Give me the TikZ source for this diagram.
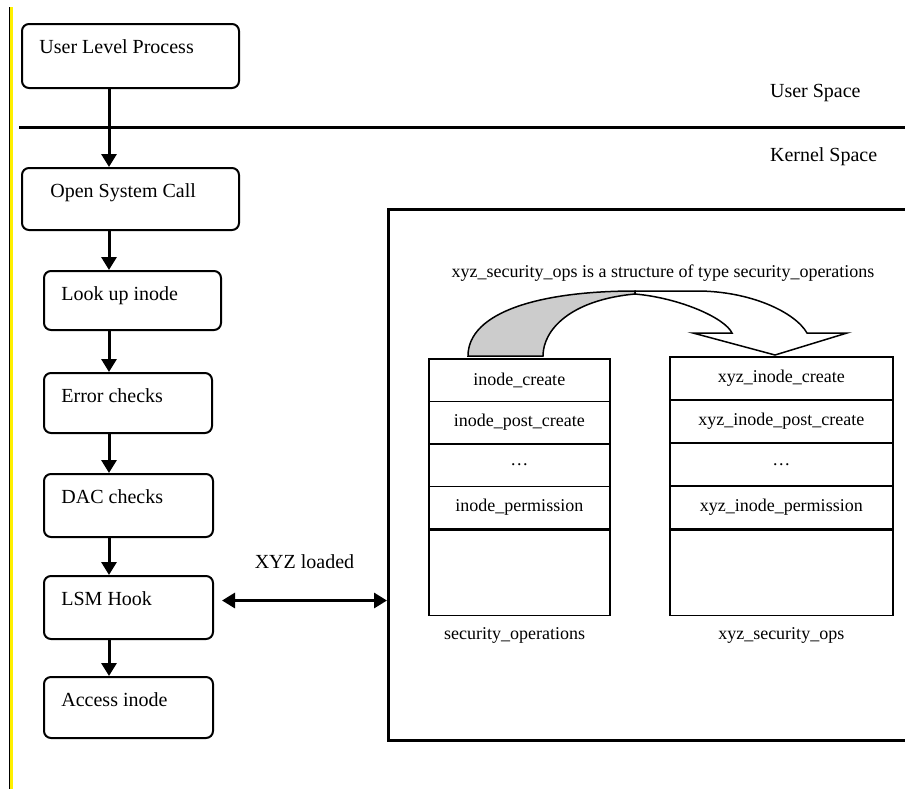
\documentclass[tikz,border=0pt]{standalone}
\usepackage{fontspec}
\setmainfont{Liberation Serif}
\usetikzlibrary{arrows.meta,calc,positioning}
\definecolor{fg}{RGB}{0,0,0}
\definecolor{shade}{RGB}{204,204,204}
\definecolor{hl}{RGB}{255,240,0}
\tikzset{
  every picture/.style={fg, line join=miter, >={Triangle[length=6.5pt,width=7.5pt]}},
  every node/.style={font=\fontsize{10}{12}\selectfont},
  % Linientypen
  rule/.style={line width=1.5pt},
  flowarr/.style={line width=1.5pt, ->},
  % Kästen des Ablaufs, Text oben links
  flow/.style={draw, line width=1pt, rounded corners=3.5pt, anchor=north west,
    minimum width=#1, inner sep=0pt},
  flow/.default=84.5pt,
  ttl/.style={anchor=base west, inner sep=0pt, xshift=9pt, yshift=-15pt},
  % Tabellen
  cell/.style={draw, line width=0.75pt, anchor=north west, minimum width=#1,
    minimum height=21.25pt, inner sep=0pt, font=\fontsize{9}{11}\selectfont},
  small/.style={font=\fontsize{9}{11}\selectfont},
}

\begin{document}
\begin{tikzpicture}[x=0.5pt, y=-0.5pt]
  \useasboundingbox (0,0) rectangle (905,789);
  % Randmarkierung
  \draw[line width=0.5pt] (9,7) -- (9,789);
  \draw[hl, line width=1.25pt] (11.5,7) -- (11.5,789);
  % Trennlinie User/Kernel
  \draw[rule] (19,127) -- (905,127);
  \node[anchor=west] (usp) at (763,93) {User Space};
  \node[anchor=west] (ksp) at (763,157) {Kernel Space};
  % Ablauf
  \node[flow=108.5pt, minimum height=32pt, label={[ttl]north west:User Level Process}] (ulp) at (21,23) {};
  \node[flow=108.5pt, minimum height=31pt, label={[ttl, xshift=5.5pt]north west:Open System Call}] (osc) at (21,167) {};
  \node[flow=88.5pt, minimum height=29.5pt, label={[ttl]north west:Look up inode}] (look) at (43,270) {};
  \node[flow=84pt, minimum height=30pt, label={[ttl]north west:Error checks}] (err) at (43,372) {};
  \node[flow, minimum height=31.5pt, label={[ttl]north west:DAC checks}] (dac) at (43,473) {};
  \node[flow, minimum height=31.5pt, label={[ttl]north west:LSM Hook}] (lsm) at (43,575) {};
  \node[flow, minimum height=30.5pt, label={[ttl]north west:Access inode}] (acc) at (43,676) {};
  \coordinate (spine) at (109,0);
  \foreach \a/\b in {ulp/osc, osc/look, look/err, err/dac, dac/lsm, lsm/acc}
    \draw[flowarr] (\a.south -| spine) -- (\b.north -| spine);
  % Kernel-Bereich
  \node[draw, line width=1.5pt, anchor=north west, minimum width=300pt, minimum height=265.5pt,
    inner sep=0pt] (kern) at (387,208) {};
  \coordinate (hook) at ([xshift=4pt, yshift=3.5pt]lsm.east);
  \draw[flowarr, <->] (hook) -- (hook -| kern.west) node[midway, yshift=19.5pt] (xyzl) {XYZ loaded};
  \node[small] (cap) at (663,273) {xyz\_security\_ops is a structure of type security\_operations};
  % Tabellen
  \foreach \t [count=\i] in {inode\_create, inode\_post\_create, \ldots, inode\_permission}
    \node[cell=90.5pt] (so\i) at (428,{358+42.5*(\i-1)}) {\t};
  \node[cell=90.5pt, minimum height=42.5pt] (so5) at (so4.south west) {};
  \draw[line width=1.5pt] (so4.south west) -- (so4.south east);
  \foreach \t [count=\i] in {xyz\_inode\_create, xyz\_inode\_post\_create, \ldots, xyz\_inode\_permission}
    \node[cell=111.5pt, minimum height=21.5pt] (xo\i) at (669,{356+43*(\i-1)}) {\t};
  \node[cell=111.5pt, minimum height=42.5pt] (xo5) at (xo4.south west) {};
  \node[small, anchor=west] (sol) at ([shift={(9,19)}]so5.south west) {security\_operations};
  \node[small] (xol) at ([shift={(0,19)}]xo5.south) {xyz\_security\_ops};
  % gebogener Blockpfeil
  \filldraw[fill=shade, line width=0.75pt] (468,356) .. controls (468,312) and (540,291) .. (635,291)
    -- (635,294) .. controls (570,300) and (543,330) .. (543,356) -- cycle;
  \filldraw[fill=white, line width=0.75pt] (635,291) -- (697,291) .. controls (750,291) and (795,312) .. (807,333)
    -- (847,333) -- (775,355) -- (693,333) -- (732,333) .. controls (725,318) and (680,298) .. (635,294) -- cycle;
\end{tikzpicture}
\end{document}
